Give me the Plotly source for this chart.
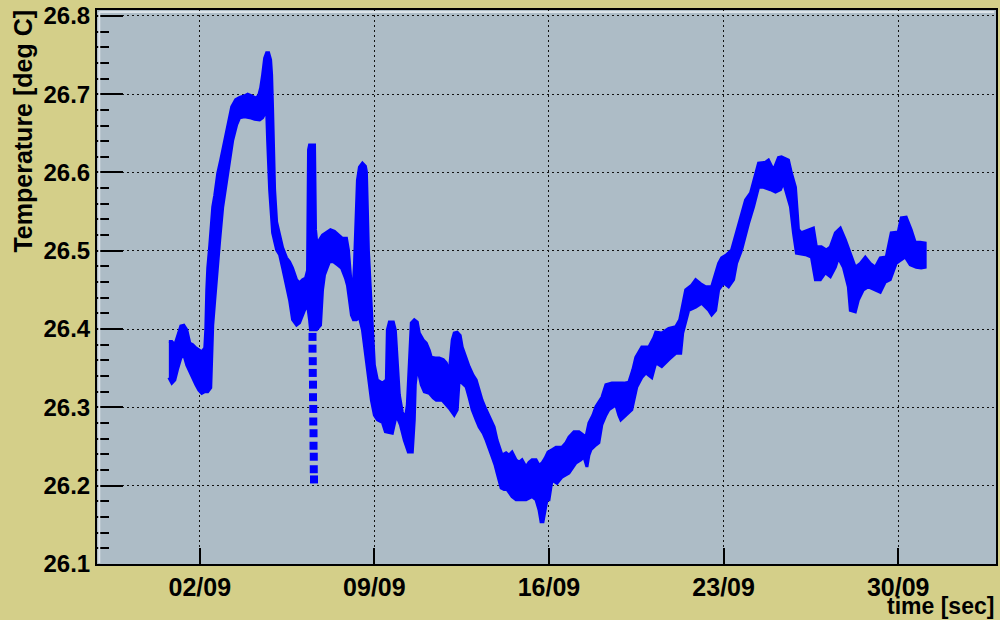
import numpy as np
import pandas as pd
import plotly.graph_objects as go

# ---- data (day = fractional day of September, 1-based) ----
upper_day = [0.76, 0.88, 1.00, 1.12, 1.24, 1.36, 1.48, 1.60, 1.72, 1.84, 1.96, 2.08, 2.20, 2.24, 2.28,
             2.32, 2.40, 2.52, 2.60, 2.72, 2.84, 3.00, 3.16, 3.28, 3.44, 3.60, 3.80, 3.92, 4.08, 4.24,
             4.36, 4.44, 4.52, 4.60, 4.68, 4.76, 4.84, 4.88, 4.92, 4.96, 5.00, 5.08, 5.20, 5.32, 5.48,
             5.60, 5.72, 5.88, 6.00, 6.12, 6.24, 6.32, 6.36, 6.40, 6.60, 6.64, 6.72, 6.80, 6.92, 7.08,
             7.24, 7.40, 7.56, 7.72, 7.88, 7.96, 8.04, 8.12, 8.20, 8.24, 8.28, 8.32, 8.40, 8.52, 8.64,
             8.68, 8.72, 8.76, 8.84, 8.92, 9.00, 9.12, 9.32, 9.48, 9.52, 9.60, 9.76, 9.84, 9.92, 10.00,
             10.12, 10.24, 10.32, 10.40, 10.48, 10.60, 10.72, 10.80, 10.96, 11.08, 11.20, 11.28, 11.44,
             11.60, 11.76, 11.88, 12.00, 12.12, 12.20, 12.32, 12.44, 12.52, 12.68, 12.80, 12.96, 13.08,
             13.20, 13.32, 13.48, 13.60, 13.72, 13.80, 13.92, 14.00, 14.12, 14.28, 14.40, 14.52, 14.68,
             14.80, 14.92, 15.08, 15.20, 15.32, 15.48, 15.60, 15.72, 15.84, 15.96, 16.12, 16.28, 16.40,
             16.52, 16.68, 16.80, 17.00, 17.20, 17.36, 17.48, 17.60, 17.76, 17.88, 18.00, 18.12, 18.28,
             18.52, 18.80, 19.00, 19.20, 19.36, 19.48, 19.72, 20.00, 20.20, 20.28, 20.52, 20.80, 21.08,
             21.24, 21.36, 21.48, 21.72, 21.88, 22.08, 22.28, 22.52, 22.68, 22.80, 22.92, 23.12, 23.32,
             23.52, 23.68, 23.88, 24.08, 24.28, 24.40, 24.68, 24.80, 25.00, 25.20, 25.32, 25.60, 25.72,
             25.88, 25.96, 26.00, 26.12, 26.40, 26.60, 26.72, 26.92, 27.12, 27.28, 27.48, 27.68, 27.88,
             28.08, 28.28, 28.48, 28.68, 28.88, 29.08, 29.28, 29.52, 29.72, 30.00, 30.12, 30.32, 30.52,
             30.68, 30.88, 31.08]
upper_temp = [26.384, 26.384, 26.380, 26.392, 26.404, 26.405, 26.399, 26.382, 26.380, 26.376, 26.373,
              26.371, 26.376, 26.399, 26.450, 26.478, 26.507, 26.556, 26.571, 26.599, 26.616, 26.641,
              26.667, 26.684, 26.693, 26.696, 26.698, 26.700, 26.698, 26.695, 26.698, 26.708, 26.725,
              26.746, 26.753, 26.753, 26.744, 26.725, 26.680, 26.616, 26.578, 26.537, 26.519, 26.504,
              26.491, 26.486, 26.478, 26.463, 26.459, 26.463, 26.465, 26.475, 26.629, 26.635, 26.635,
              26.527, 26.501, 26.514, 26.520, 26.524, 26.527, 26.525, 26.521, 26.516, 26.516, 26.501,
              26.469, 26.437, 26.482, 26.523, 26.565, 26.590, 26.607, 26.612, 26.608, 26.601, 26.552,
              26.501, 26.450, 26.399, 26.354, 26.335, 26.331, 26.335, 26.399, 26.409, 26.409, 26.399,
              26.361, 26.316, 26.294, 26.286, 26.303, 26.352, 26.408, 26.412, 26.409, 26.395, 26.386,
              26.382, 26.373, 26.364, 26.363, 26.363, 26.361, 26.357, 26.345, 26.386, 26.395, 26.396,
              26.392, 26.377, 26.363, 26.352, 26.341, 26.335, 26.322, 26.309, 26.297, 26.288, 26.280,
              26.275, 26.258, 26.249, 26.239, 26.242, 26.239, 26.243, 26.233, 26.230, 26.233, 26.224,
              26.230, 26.233, 26.233, 26.226, 26.229, 26.235, 26.243, 26.246, 26.249, 26.249, 26.249,
              26.255, 26.262, 26.269, 26.269, 26.265, 26.262, 26.280, 26.290, 26.301, 26.307, 26.313,
              26.329, 26.331, 26.331, 26.331, 26.332, 26.348, 26.364, 26.377, 26.377, 26.389, 26.396,
              26.395, 26.401, 26.403, 26.412, 26.431, 26.450, 26.456, 26.463, 26.458, 26.454, 26.454,
              26.472, 26.484, 26.491, 26.495, 26.501, 26.523, 26.543, 26.565, 26.574, 26.599, 26.612,
              26.613, 26.616, 26.603, 26.619, 26.620, 26.616, 26.599, 26.581, 26.546, 26.527, 26.523,
              26.527, 26.529, 26.505, 26.505, 26.501, 26.505, 26.523, 26.529, 26.514, 26.497, 26.479,
              26.484, 26.492, 26.484, 26.479, 26.491, 26.492, 26.523, 26.524, 26.542, 26.543, 26.527,
              26.511, 26.511, 26.510]

lower_day = [0.76, 0.88, 1.00, 1.12, 1.24, 1.36, 1.48, 1.60, 1.72, 1.84, 1.96, 2.08, 2.20, 2.32, 2.44,
             2.48, 2.52, 2.60, 2.68, 2.80, 2.92, 3.12, 3.32, 3.48, 3.60, 3.80, 4.00, 4.20, 4.40, 4.52,
             4.64, 4.68, 4.72, 4.80, 4.92, 5.08, 5.20, 5.32, 5.48, 5.60, 5.72, 5.88, 6.00, 6.08, 6.20,
             6.32, 6.40, 6.44, 6.68, 6.84, 6.92, 7.00, 7.20, 7.36, 7.52, 7.68, 7.84, 7.92, 8.00, 8.08,
             8.16, 8.28, 8.40, 8.52, 8.64, 8.76, 8.88, 9.00, 9.12, 9.32, 9.44, 9.72, 9.88, 10.04, 10.20,
             10.36, 10.52, 10.60, 10.64, 10.72, 10.88, 11.00, 11.20, 11.36, 11.48, 11.72, 11.88, 12.00,
             12.20, 12.32, 12.40, 12.52, 12.68, 12.80, 12.92, 13.08, 13.20, 13.36, 13.48, 13.60, 13.72,
             13.84, 13.92, 14.08, 14.20, 14.32, 14.52, 14.68, 14.80, 15.08, 15.32, 15.48, 15.60, 15.68,
             15.76, 15.84, 15.92, 16.00, 16.12, 16.32, 16.52, 16.80, 17.08, 17.28, 17.40, 17.52, 17.60,
             17.68, 17.88, 18.00, 18.12, 18.28, 18.40, 18.68, 18.80, 18.88, 19.08, 19.32, 19.52, 19.72,
             19.88, 20.00, 20.12, 20.28, 20.52, 20.80, 21.08, 21.28, 21.36, 21.60, 21.88, 22.12, 22.40,
             22.52, 22.68, 22.80, 23.00, 23.20, 23.40, 23.52, 23.72, 24.00, 24.20, 24.40, 24.60, 24.88,
             25.08, 25.28, 25.40, 25.52, 25.68, 25.80, 25.92, 26.28, 26.52, 26.68, 26.88, 27.08, 27.28,
             27.48, 27.60, 27.80, 28.00, 28.08, 28.28, 28.40, 28.60, 28.80, 29.08, 29.28, 29.48, 29.68,
             29.92, 30.28, 30.48, 30.72, 30.92, 31.08]
lower_temp = [26.338, 26.331, 26.335, 26.350, 26.363, 26.367, 26.354, 26.345, 26.338, 26.329, 26.322,
              26.318, 26.320, 26.320, 26.325, 26.373, 26.405, 26.437, 26.472, 26.514, 26.556, 26.599,
              26.641, 26.661, 26.670, 26.671, 26.670, 26.668, 26.667, 26.670, 26.677, 26.680, 26.641,
              26.578, 26.523, 26.501, 26.495, 26.478, 26.456, 26.437, 26.412, 26.405, 26.408, 26.414,
              26.424, 26.431, 26.412, 26.399, 26.399, 26.405, 26.450, 26.469, 26.486, 26.486, 26.482,
              26.478, 26.465, 26.456, 26.437, 26.418, 26.412, 26.412, 26.415, 26.399, 26.373, 26.338,
              26.309, 26.290, 26.284, 26.281, 26.269, 26.267, 26.290, 26.278, 26.258, 26.243, 26.243,
              26.284, 26.329, 26.352, 26.329, 26.320, 26.318, 26.312, 26.309, 26.309, 26.303, 26.299,
              26.290, 26.297, 26.335, 26.331, 26.326, 26.312, 26.297, 26.284, 26.275, 26.267, 26.258,
              26.248, 26.237, 26.226, 26.216, 26.197, 26.195, 26.195, 26.186, 26.182, 26.182, 26.182,
              26.186, 26.182, 26.169, 26.154, 26.154, 26.169, 26.182, 26.182, 26.207, 26.203, 26.211,
              26.216, 26.229, 26.233, 26.237, 26.224, 26.239, 26.246, 26.252, 26.255, 26.278, 26.290,
              26.297, 26.303, 26.290, 26.284, 26.290, 26.297, 26.326, 26.338, 26.344, 26.341, 26.338,
              26.357, 26.352, 26.361, 26.369, 26.369, 26.395, 26.424, 26.428, 26.433, 26.424, 26.418,
              26.424, 26.450, 26.459, 26.454, 26.463, 26.484, 26.501, 26.535, 26.556, 26.581, 26.581,
              26.578, 26.575, 26.578, 26.587, 26.574, 26.556, 26.523, 26.497, 26.495, 26.492, 26.463,
              26.463, 26.472, 26.467, 26.479, 26.491, 26.479, 26.454, 26.424, 26.422, 26.437, 26.450,
              26.454, 26.450, 26.447, 26.460, 26.463, 26.484, 26.492, 26.482, 26.479, 26.478, 26.479]

# sparse readings on the fast drop of 06/09 (drawn as separate points)
drop_day = [6.52, 6.52, 6.53, 6.53, 6.54, 6.54, 6.55, 6.55, 6.56, 6.56, 6.57, 6.57, 6.58]
drop_temp = [26.390, 26.375, 26.359, 26.344, 26.329, 26.313, 26.298, 26.282, 26.267, 26.251,
             26.237, 26.221, 26.208]

x_tick_days = [2, 9, 16, 23, 30]
x_tick_labels = ["02/09", "09/09", "16/09", "23/09", "30/09"]
x_range_days = [-2.12, 33.92]
y_range = [26.1, 26.8075]

base = pd.Timestamp("2010-09-01")


def to_time(days):
    return base + pd.to_timedelta(np.asarray(days, dtype=float) - 1.0, unit="D")


ut = to_time(upper_day)
lt = to_time(lower_day)
poly_x = list(ut) + list(lt[::-1])
poly_y = list(upper_temp) + list(lower_temp[::-1])

BLUE = "#0000ff"
fig = go.Figure()
fig.add_trace(go.Scatter(x=poly_x, y=poly_y, mode="lines", fill="toself",
                         fillcolor=BLUE, line=dict(color=BLUE, width=3, shape="linear"),
                         hoverinfo="skip", showlegend=False))
fig.add_trace(go.Scatter(x=to_time(drop_day), y=drop_temp, mode="markers",
                         marker=dict(symbol="square", size=8, color=BLUE, line=dict(width=0)),
                         showlegend=False))

FONT = "Liberation Sans"
fig.update_layout(
    width=1000, height=620,
    margin=dict(l=97, r=2, t=10, b=56),
    paper_bgcolor="#d4cf89",
    plot_bgcolor="#adbcc6",
    showlegend=False,
    font=dict(family=FONT, color="black"),
    shapes=[
        # light bevel just inside the frame (left and top)
        dict(type="line", xref="paper", yref="paper", x0=0.0025, x1=0.0025, y0=0.002, y1=0.9964,
             line=dict(color="#dde4e9", width=2), layer="above"),
        dict(type="line", xref="paper", yref="paper", x0=0.0025, x1=0.998, y0=0.9964, y1=0.9964,
             line=dict(color="#dde4e9", width=2), layer="above"),
    ],
)
fig.update_xaxes(
    type="date",
    range=list(to_time(x_range_days)),
    tickvals=list(to_time(x_tick_days)),
    ticktext=x_tick_labels,
    ticks="inside", ticklen=16, tickwidth=1.5, tickcolor="black",
    tickfont=dict(family=FONT, size=25, weight="bold", color="black"),
    showgrid=True, gridcolor="#111111", gridwidth=1.2, griddash="2px,3px",
    showline=True, linecolor="black", linewidth=2, mirror=True,
    zeroline=False,
)
fig.update_yaxes(
    range=y_range,
    tick0=26.1, dtick=0.1, tickformat=".1f",
    ticks="inside", ticklen=26, tickwidth=1.5, tickcolor="black",
    minor=dict(dtick=0.02, ticks="inside", ticklen=12, tickwidth=1.5, tickcolor="black",
               showgrid=False),
    tickfont=dict(family=FONT, size=24, weight="bold", color="black"),
    showgrid=True, gridcolor="#111111", gridwidth=1.2, griddash="2px,3px",
    showline=True, linecolor="black", linewidth=2, mirror=True,
    zeroline=False,
)
fig.add_annotation(text="Temperature [deg C]", xref="paper", yref="paper",
                   x=-0.082, y=1.004, xanchor="center", yanchor="top", textangle=-90,
                   showarrow=False, font=dict(family=FONT, size=25, weight="bold", color="black"))
fig.add_annotation(text="time [sec]", xref="paper", yref="paper",
                   x=1.0, y=-0.0758, xanchor="right", yanchor="middle",
                   showarrow=False, font=dict(family=FONT, size=23, weight="bold", color="black"))

fig.write_html("out.html",
               config={"displayModeBar": False},
               post_script="document.body.style.margin='0';document.body.style.padding='0';")
